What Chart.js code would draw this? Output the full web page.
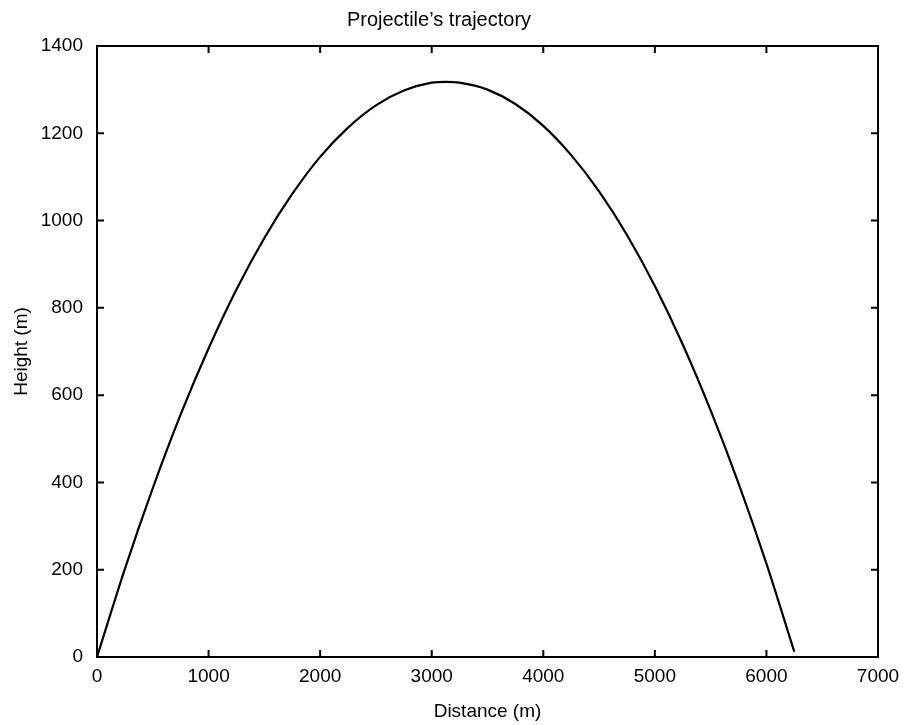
<!DOCTYPE html>
<html>
<head>
<meta charset="utf-8">
<title>Projectile's trajectory</title>
<script src="https://cdn.jsdelivr.net/npm/chart.js@4/dist/chart.umd.min.js"></script>
<style>
  body { margin: 0; background: #fff; }
  #wrap { width: 904px; height: 725px; }
</style>
</head>
<body>
<div id="wrap"><canvas id="trajChart" width="904" height="725"></canvas></div>
<script>
// distance (m) and height (m)
const distance = [0, 250, 500, 750, 1000, 1250, 1500, 1750, 2000, 2250, 2500, 2750, 3000, 3132,
  3250, 3500, 3750, 4000, 4250, 4500, 4750, 5000, 5250, 5500, 5750, 6000, 6250];
const height = [0, 202, 387, 556, 707, 842, 960, 1061, 1146, 1213, 1264, 1298, 1316, 1318,
  1316, 1300, 1267, 1217, 1150, 1067, 967, 850, 716, 565, 398, 214, 12];

const xTicks = [0, 1000, 2000, 3000, 4000, 5000, 6000, 7000];
const yTicks = [0, 200, 400, 600, 800, 1000, 1200, 1400];

const FONT = 'Liberation Sans, Arial, Helvetica, sans-serif';

// frame box + inward ticks on all four sides
const frameTicks = {
  id: 'frameTicks',
  afterDraw(chart) {
    const ctx = chart.ctx;
    const a = chart.chartArea;
    const xs = chart.scales.x;
    const ys = chart.scales.y;
    const len = 7;
    ctx.save();
    ctx.strokeStyle = '#000';
    ctx.lineWidth = 2;
    ctx.strokeRect(a.left, a.top, a.right - a.left, a.bottom - a.top);
    ctx.beginPath();
    xTicks.forEach(v => {
      const px = xs.getPixelForValue(v);
      ctx.moveTo(px, a.bottom); ctx.lineTo(px, a.bottom - len);
      ctx.moveTo(px, a.top); ctx.lineTo(px, a.top + len);
    });
    yTicks.forEach(v => {
      const py = ys.getPixelForValue(v);
      ctx.moveTo(a.left, py); ctx.lineTo(a.left + len, py);
      ctx.moveTo(a.right, py); ctx.lineTo(a.right - len, py);
    });
    ctx.stroke();
    ctx.restore();
  }
};

const points = distance.map((d, i) => ({ x: d, y: height[i] }));

new Chart(document.getElementById('trajChart'), {
  type: 'line',
  data: {
    datasets: [{
      data: points,
      borderColor: '#000',
      borderWidth: 2.2,
      pointRadius: 0,
      fill: false,
      tension: 0.4,
      cubicInterpolationMode: 'monotone'
    }]
  },
  options: {
    responsive: false,
    animation: false,
    layout: { padding: { top: 0, right: 26, bottom: 0, left: 0 } },
    plugins: {
      legend: { display: false },
      tooltip: { enabled: false },
      title: {
        display: true,
        text: 'Projectile\u2019s trajectory',
        color: '#000',
        font: { family: FONT, size: 20, weight: 'normal' },
        padding: { top: 8, bottom: 14 }
      }
    },
    scales: {
      x: {
        type: 'linear',
        min: 0,
        max: 7000,
        afterFit(scale) {
          scale.height = 68;
          scale.paddingLeft = 0;
          scale.paddingRight = 0;
        },
        afterBuildTicks(scale) { scale.ticks = xTicks.map(v => ({ value: v })); },
        grid: { display: false, drawTicks: false },
        border: { display: false },
        ticks: {
          color: '#000', padding: 8, maxRotation: 0,
          font: { family: FONT, size: 19 },
          callback: v => String(v)
        },
        title: {
          display: true,
          text: 'Distance (m)',
          color: '#000',
          font: { family: FONT, size: 19 },
          padding: { top: 0, bottom: 2 }
        }
      },
      y: {
        min: 0,
        max: 1400,
        afterFit(scale) { scale.width = 97; },
        afterBuildTicks(scale) { scale.ticks = yTicks.map(v => ({ value: v })); },
        grid: { display: false, drawTicks: false },
        border: { display: false },
        ticks: {
          color: '#000', padding: 14,
          font: { family: FONT, size: 19 },
          callback: v => String(v)
        },
        title: {
          display: true,
          text: 'Height (m)',
          color: '#000',
          font: { family: FONT, size: 19 },
          padding: { top: 10.6, bottom: 0 }
        }
      }
    }
  },
  plugins: [frameTicks]
});
</script>
</body>
</html>
